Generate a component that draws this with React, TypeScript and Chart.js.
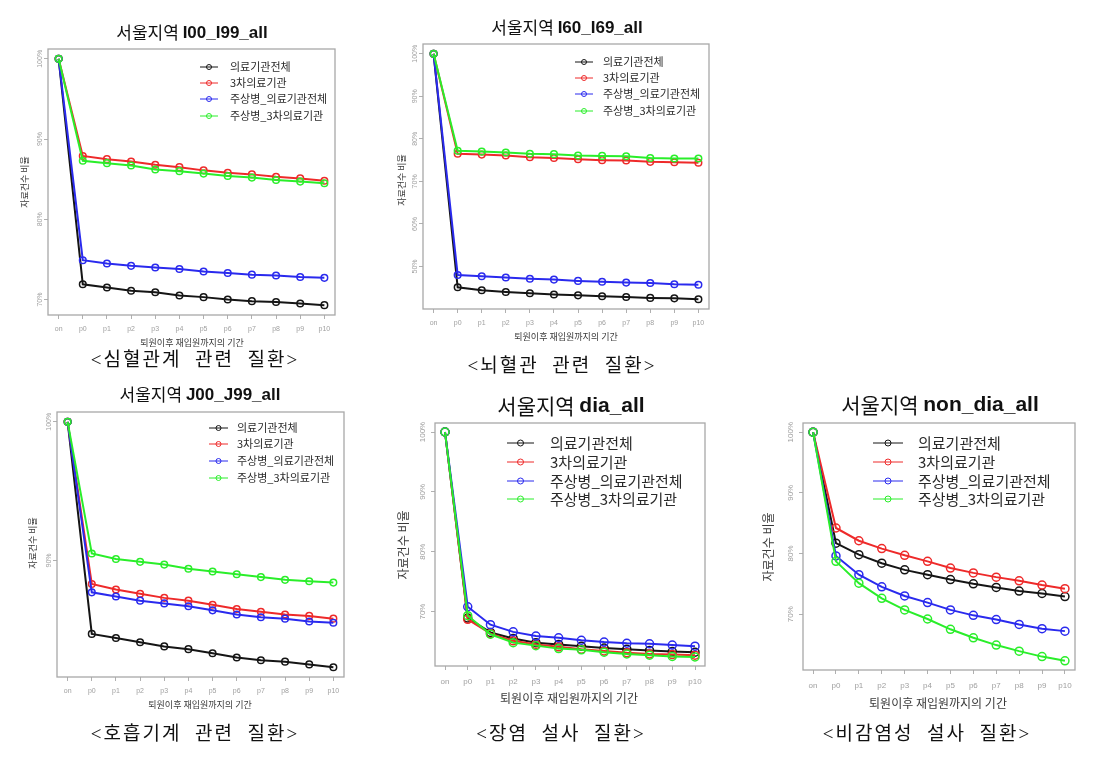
import React, { useEffect, useRef } from 'react';
import { Chart, registerables } from 'chart.js';

Chart.register(...registerables);

// ---------- shared labels ----------
const periods = ['on', 'p0', 'p1', 'p2', 'p3', 'p4', 'p5', 'p6', 'p7', 'p8', 'p9', 'p10'];
const seriesNames = ['의료기관전체', '3차의료기관', '주상병_의료기관전체', '주상병_3차의료기관'];
const seriesColors = ['#151515', '#ee2a2a', '#2a2aee', '#2aee2a'];
const regionLabel = '서울지역';
const yAxisTitle = '자료건수 비율';
const xAxisTitle = '퇴원이후 재입원까지의 기간';

// ---------- panel 1 : I00_I99_all ----------
const p1Code = 'I00_I99_all';
const p1Caption = '<심혈관계  관련  질환>';
const p1YTicks = [70, 80, 90, 100];
const p1Total = [100, 71.9, 71.5, 71.1, 70.9, 70.5, 70.3, 70.0, 69.8, 69.7, 69.5, 69.3];
const p1Tertiary = [100, 87.9, 87.5, 87.2, 86.8, 86.5, 86.1, 85.8, 85.6, 85.3, 85.1, 84.8];
const p1MainTotal = [100, 74.9, 74.5, 74.2, 74.0, 73.8, 73.5, 73.3, 73.1, 73.0, 72.8, 72.7];
const p1MainTertiary = [100, 87.3, 87.0, 86.7, 86.2, 86.0, 85.7, 85.4, 85.2, 84.9, 84.7, 84.5];

// ---------- panel 2 : I60_I69_all ----------
const p2Code = 'I60_I69_all';
const p2Caption = '<뇌혈관  관련  질환>';
const p2YTicks = [50, 60, 70, 80, 90, 100];
const p2Total = [100, 45.1, 44.4, 44.0, 43.7, 43.4, 43.2, 43.0, 42.8, 42.6, 42.5, 42.3];
const p2Tertiary = [100, 76.5, 76.3, 76.1, 75.7, 75.5, 75.2, 75.0, 74.9, 74.6, 74.5, 74.4];
const p2MainTotal = [100, 48.0, 47.7, 47.4, 47.1, 46.9, 46.6, 46.4, 46.2, 46.1, 45.8, 45.7];
const p2MainTertiary = [100, 77.2, 77.0, 76.8, 76.5, 76.4, 76.1, 76.0, 75.9, 75.5, 75.4, 75.4];

// ---------- panel 3 : J00_J99_all ----------
const p3Code = 'J00_J99_all';
const p3Caption = '<호흡기계  관련  질환>';
const p3YTicks = [90, 100];
const p3Total = [100, 84.7, 84.4, 84.1, 83.8, 83.6, 83.3, 83.0, 82.8, 82.7, 82.5, 82.3];
const p3Tertiary = [100, 88.3, 87.9, 87.6, 87.3, 87.1, 86.8, 86.5, 86.3, 86.1, 86.0, 85.8];
const p3MainTotal = [100, 87.7, 87.4, 87.1, 86.9, 86.7, 86.4, 86.1, 85.9, 85.8, 85.6, 85.5];
const p3MainTertiary = [100, 90.5, 90.1, 89.9, 89.7, 89.4, 89.2, 89.0, 88.8, 88.6, 88.5, 88.4];

// ---------- panel 4 : dia_all ----------
const p4Code = 'dia_all';
const p4Caption = '<장염  설사  질환>';
const p4YTicks = [70, 80, 90, 100];
const p4Total = [100, 68.9, 66.5, 65.5, 64.8, 64.5, 64.2, 63.9, 63.7, 63.5, 63.3, 63.2];
const p4Tertiary = [100, 68.7, 66.3, 65.1, 64.5, 64.1, 63.7, 63.4, 63.1, 62.9, 62.8, 62.7];
const p4MainTotal = [100, 70.8, 67.8, 66.6, 65.9, 65.6, 65.2, 64.9, 64.7, 64.6, 64.4, 64.2];
const p4MainTertiary = [100, 69.3, 66.2, 64.8, 64.3, 63.8, 63.6, 63.2, 62.9, 62.7, 62.5, 62.4];

// ---------- panel 5 : non_dia_all ----------
const p5Code = 'non_dia_all';
const p5Caption = '<비감염성  설사  질환>';
const p5YTicks = [70, 80, 90, 100];
const p5Total = [100, 81.7, 79.8, 78.4, 77.3, 76.5, 75.7, 75.0, 74.4, 73.8, 73.4, 72.9];
const p5Tertiary = [100, 84.2, 82.1, 80.8, 79.7, 78.7, 77.6, 76.8, 76.1, 75.5, 74.8, 74.2];
const p5MainTotal = [100, 79.6, 76.5, 74.5, 73.0, 71.9, 70.7, 69.8, 69.1, 68.3, 67.6, 67.2];
const p5MainTertiary = [100, 78.7, 75.1, 72.6, 70.7, 69.2, 67.5, 66.1, 64.9, 63.9, 63.0, 62.3];

// ---------- layout (page coordinates) ----------
type Layout = {
  x0: number; y0: number; w: number; h: number;
  L: number; T: number; R: number; B: number;
  titleX: number; titleY: number; titleSize: number;
  yTickOff: number; xTickY: number; tickSize: number;
  xTitleX: number; xTitleY: number; yTitleX: number; yTitleY: number; axisTitleSize: number;
  legX1: number; legX2: number; legTextX: number; legRows: number[]; legSize: number;
  capX: number; capY: number; capSize: number;
};

const layout1: Layout = {
  x0: 0, y0: 0, w: 370, h: 380, L: 48, T: 49, R: 335, B: 315,
  titleX: 192, titleY: 33, titleSize: 17,
  yTickOff: 8, xTickY: 329, tickSize: 7,
  xTitleX: 192, xTitleY: 343, yTitleX: 25, yTitleY: 182, axisTitleSize: 9,
  legX1: 200, legX2: 218, legTextX: 230, legRows: [67, 83, 99, 116], legSize: 11,
  capX: 194, capY: 361, capSize: 19,
};
const layout2: Layout = {
  x0: 370, y0: 0, w: 370, h: 380, L: 423, T: 44, R: 709, B: 309,
  titleX: 567, titleY: 28, titleSize: 17,
  yTickOff: 8, xTickY: 323, tickSize: 7,
  xTitleX: 566, xTitleY: 337, yTitleX: 402, yTitleY: 180, axisTitleSize: 9,
  legX1: 575, legX2: 593, legTextX: 603, legRows: [62, 78, 94, 111], legSize: 11,
  capX: 561, capY: 367, capSize: 19,
};
const layout3: Layout = {
  x0: 0, y0: 380, w: 370, h: 381, L: 57, T: 412, R: 344, B: 677,
  titleX: 200, titleY: 395, titleSize: 17,
  yTickOff: 8, xTickY: 691, tickSize: 7,
  xTitleX: 200, xTitleY: 705, yTitleX: 33, yTitleY: 543, axisTitleSize: 9,
  legX1: 209, legX2: 228, legTextX: 237, legRows: [428, 444, 461, 478], legSize: 11,
  capX: 194, capY: 735, capSize: 19,
};
const layout4: Layout = {
  x0: 370, y0: 380, w: 370, h: 381, L: 435, T: 423, R: 705, B: 666,
  titleX: 571, titleY: 406, titleSize: 21,
  yTickOff: 12, xTickY: 682, tickSize: 8,
  xTitleX: 569, xTitleY: 698, yTitleX: 403, yTitleY: 545, axisTitleSize: 12,
  legX1: 507, legX2: 534, legTextX: 550, legRows: [443, 462, 481, 499], legSize: 15,
  capX: 560, capY: 735, capSize: 19,
};
const layout5: Layout = {
  x0: 740, y0: 380, w: 365, h: 381, L: 803, T: 423, R: 1075, B: 670,
  titleX: 940, titleY: 405, titleSize: 21,
  yTickOff: 12, xTickY: 686, tickSize: 8,
  xTitleX: 938, xTitleY: 703, yTitleX: 768, yTitleY: 547, axisTitleSize: 12,
  legX1: 873, legX2: 903, legTextX: 918, legRows: [443, 462, 481, 499], legSize: 15,
  capX: 926, capY: 735, capSize: 19,
};

type PanelDef = { code: string; caption: string; yTicks: number[]; series: number[][]; layout: Layout };

const panels: PanelDef[] = [
  { code: p1Code, caption: p1Caption, yTicks: p1YTicks, series: [p1Total, p1Tertiary, p1MainTotal, p1MainTertiary], layout: layout1 },
  { code: p2Code, caption: p2Caption, yTicks: p2YTicks, series: [p2Total, p2Tertiary, p2MainTotal, p2MainTertiary], layout: layout2 },
  { code: p3Code, caption: p3Caption, yTicks: p3YTicks, series: [p3Total, p3Tertiary, p3MainTotal, p3MainTertiary], layout: layout3 },
  { code: p4Code, caption: p4Caption, yTicks: p4YTicks, series: [p4Total, p4Tertiary, p4MainTotal, p4MainTertiary], layout: layout4 },
  { code: p5Code, caption: p5Caption, yTicks: p5YTicks, series: [p5Total, p5Tertiary, p5MainTotal, p5MainTertiary], layout: layout5 },
];

const KR = '"Noto Sans CJK KR", "Noto Sans", sans-serif';
const LAT = '"Liberation Sans", Arial, sans-serif';

function makeDeco(p: PanelDef) {
  const g = p.layout;
  return {
    id: 'deco',
    afterDraw(chart: any) {
      const ctx: CanvasRenderingContext2D = chart.ctx;
      const { left, top, right, bottom } = chart.chartArea;
      const ox = g.x0;
      const oy = g.y0;
      ctx.save();
      // plot box
      ctx.strokeStyle = '#a8a8a8';
      ctx.lineWidth = 1.3;
      ctx.strokeRect(left, top, right - left, bottom - top);

      // tick labels
      const ys = chart.scales.y;
      const xs = chart.scales.x;
      ctx.fillStyle = '#a0a0a0';
      ctx.font = `${g.tickSize}px ${LAT}`;
      ctx.textAlign = 'center';
      ctx.textBaseline = 'middle';
      ys.ticks.forEach((t: any) => {
        const py = ys.getPixelForValue(t.value);
        ctx.save();
        ctx.translate(left - g.yTickOff, py);
        ctx.rotate(-Math.PI / 2);
        ctx.fillText(`${t.value}%`, 0, 0);
        ctx.restore();
      });
      xs.ticks.forEach((t: any) => {
        ctx.fillText(periods[t.value - 1], xs.getPixelForValue(t.value), g.xTickY - oy);
      });

      // axis titles
      ctx.fillStyle = '#3a3a3a';
      ctx.font = `${g.axisTitleSize}px ${KR}`;
      ctx.fillText(xAxisTitle, g.xTitleX - ox, g.xTitleY - oy);
      ctx.save();
      ctx.translate(g.yTitleX - ox, g.yTitleY - oy);
      ctx.rotate(-Math.PI / 2);
      ctx.fillText(yAxisTitle, 0, 0);
      ctx.restore();

      // title (Korean normal + code bold)
      ctx.fillStyle = '#111';
      const kr = regionLabel + ' ';
      ctx.font = `${g.titleSize}px ${KR}`;
      const w1 = ctx.measureText(kr).width;
      ctx.font = `bold ${g.titleSize}px ${LAT}`;
      const w2 = ctx.measureText(p.code).width;
      const sx = g.titleX - ox - (w1 + w2) / 2;
      ctx.textAlign = 'left';
      ctx.font = `${g.titleSize}px ${KR}`;
      ctx.fillText(kr, sx, g.titleY - oy);
      ctx.font = `bold ${g.titleSize}px ${LAT}`;
      ctx.fillText(p.code, sx + w1, g.titleY - oy);

      // legend
      ctx.font = `${g.legSize}px ${KR}`;
      chart.data.datasets.forEach((ds: any, i: number) => {
        const ry = g.legRows[i] - oy;
        ctx.strokeStyle = ds.borderColor;
        ctx.lineWidth = 1;
        ctx.beginPath();
        ctx.moveTo(g.legX1 - ox, ry);
        ctx.lineTo(g.legX2 - ox, ry);
        ctx.stroke();
        ctx.beginPath();
        ctx.arc((g.legX1 + g.legX2) / 2 - ox, ry, g.legSize > 12 ? 3 : 2.5, 0, Math.PI * 2);
        ctx.stroke();
        ctx.fillStyle = '#2a2a2a';
        ctx.fillText(ds.label, g.legTextX - ox, ry);
      });

      // caption
      ctx.fillStyle = '#111';
      ctx.textAlign = 'center';
      (ctx as any).letterSpacing = '2px';
      ctx.font = `${g.capSize}px "Liberation Serif", "Noto Sans CJK KR", serif`;
      ctx.fillText(p.caption, g.capX - ox + 1, g.capY - oy);
      (ctx as any).letterSpacing = '0px';
      ctx.restore();
    },
  };
}

function Panel({ p }: { p: PanelDef }) {
  const ref = useRef<HTMLCanvasElement | null>(null);
  useEffect(() => {
    if (!ref.current) return;
    const g = p.layout;
    const all = p.series.flat();
    const lo = Math.min(...all);
    const hi = Math.max(...all);
    const ext = (hi - lo) * 0.04;
    const nx = periods.length;
    const xext = (nx - 1) * 0.04;
    const AX = 5;
    const chart = new Chart(ref.current, {
      type: 'line',
      data: {
        datasets: p.series.map((vals, i) => ({
          label: seriesNames[i],
          data: vals.map((v, j) => ({ x: j + 1, y: v })),
          borderColor: seriesColors[i],
          backgroundColor: 'rgba(0,0,0,0)',
          borderWidth: 2,
          pointRadius: g.legSize > 12 ? 4 : 3.3,
          pointBorderWidth: 1.5,
          pointBackgroundColor: 'rgba(0,0,0,0)',
          pointBorderColor: seriesColors[i],
          tension: 0,
          order: 3 - i,
        })),
      },
      options: {
        animation: false,
        responsive: false,
        devicePixelRatio: 1,
        layout: {
          autoPadding: false,
          padding: {
            left: g.L - g.x0 - AX,
            top: g.T - g.y0,
            right: g.x0 + g.w - g.R,
            bottom: g.y0 + g.h - g.B - AX,
          },
        },
        plugins: { legend: { display: false }, title: { display: false }, tooltip: { enabled: false } },
        scales: {
          x: {
            type: 'linear',
            min: 1 - xext,
            max: nx + xext,
            afterBuildTicks: (s: any) => { s.ticks = periods.map((_, i) => ({ value: i + 1 })); },
            afterFit: (s: any) => { s.height = AX; },
            ticks: { display: false },
            grid: { display: true, drawOnChartArea: false, drawTicks: true, tickLength: 4, color: '#b0b0b0' },
            border: { display: false },
          },
          y: {
            type: 'linear',
            min: lo - ext,
            max: hi + ext,
            afterBuildTicks: (s: any) => { s.ticks = p.yTicks.map((v) => ({ value: v })); },
            afterFit: (s: any) => { s.width = AX; },
            ticks: { display: false },
            grid: { display: true, drawOnChartArea: false, drawTicks: true, tickLength: 4, color: '#b0b0b0' },
            border: { display: false },
          },
        },
      },
      plugins: [makeDeco(p)],
    } as any);
    return () => chart.destroy();
  }, [p]);
  const g = p.layout;
  return (
    <canvas
      ref={ref}
      width={g.w}
      height={g.h}
      style={{ position: 'absolute', left: g.x0, top: g.y0, width: g.w, height: g.h }}
    />
  );
}

export default function App() {
  return (
    <div style={{ position: 'absolute', left: 0, top: 0, width: 1105, height: 761, background: '#fff', overflow: 'hidden' }}>
      {panels.map((p) => (
        <Panel key={p.code} p={p} />
      ))}
    </div>
  );
}
